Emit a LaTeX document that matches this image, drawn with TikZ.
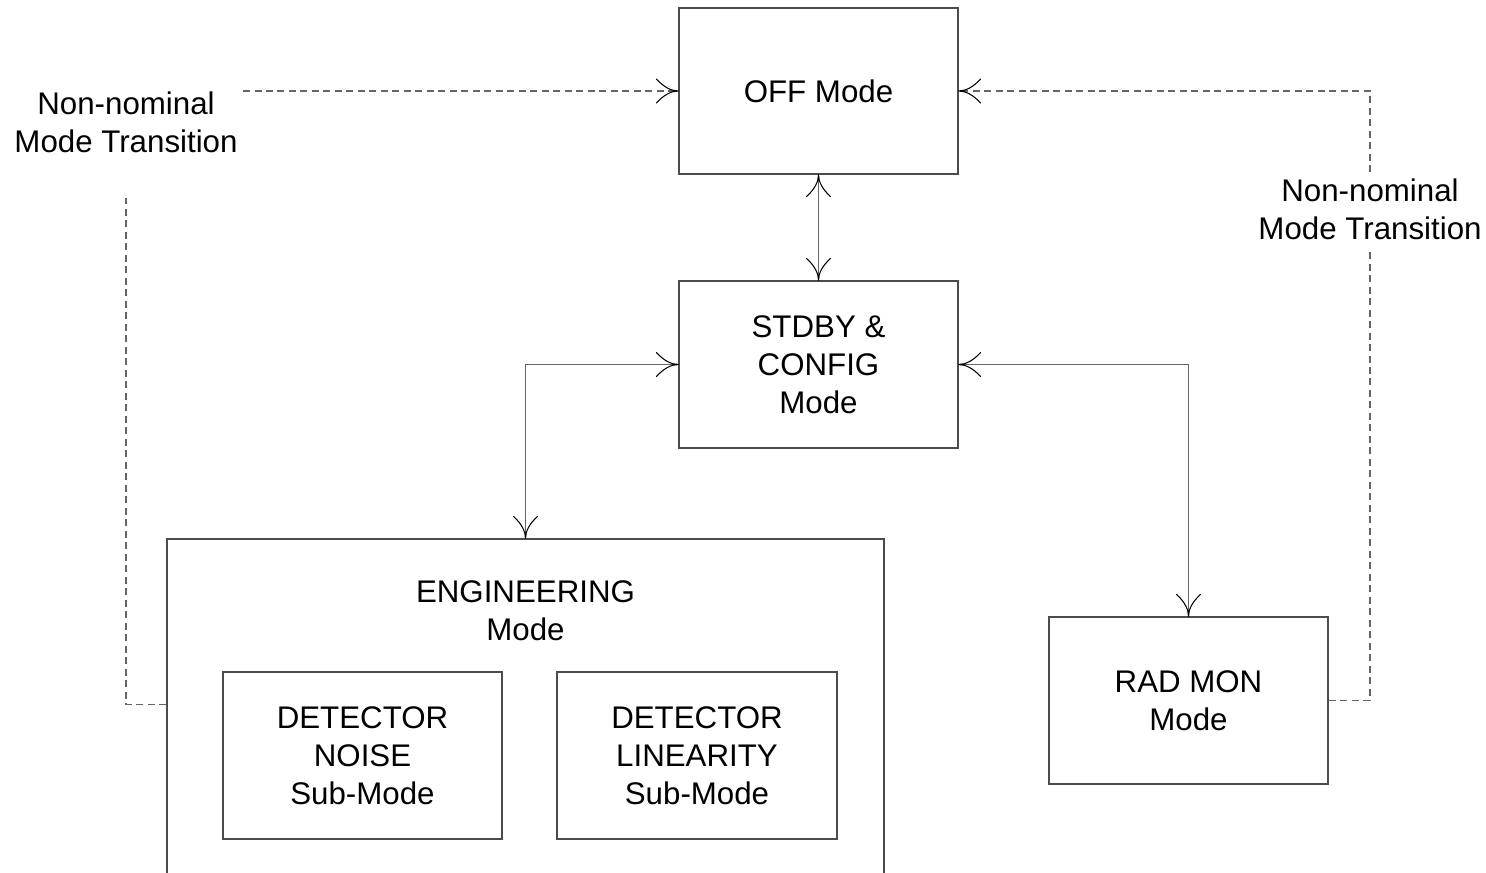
\documentclass[tikz,border=0pt]{standalone}
\usepackage{fontspec}
\setmainfont{Liberation Sans}

% open fork-shaped arrow tip with curved barbs
\pgfarrowsdeclare{fork}{fork}
{\pgfarrowsleftextend{-0.46cm}\pgfarrowsrightextend{0pt}}
{
  \pgfsetdash{}{0pt}
  \pgfsetroundcap
  \pgfsetlinewidth{0.6pt}
  \pgfsetstrokecolor{black}
  \pgfpathmoveto{\pgfpoint{-0.44cm}{0.24cm}}
  \pgfpathquadraticcurveto{\pgfpoint{-0.22cm}{0cm}}{\pgfpoint{0cm}{0cm}}
  \pgfpathmoveto{\pgfpoint{-0.44cm}{-0.24cm}}
  \pgfpathquadraticcurveto{\pgfpoint{-0.22cm}{0cm}}{\pgfpoint{0cm}{0cm}}
  \pgfusepathqstroke
}

\begin{document}
\begin{tikzpicture}[x=0.02cm,y=-0.02cm,
  every node/.style={font=\fontsize{17.8}{21.5}\selectfont, align=center, text=black},
  modebox/.style={draw=black!70, line width=0.7pt, inner sep=0pt},
  conn/.style={draw=black!60, line width=0.7pt, fork-fork},
  dashline/.style={draw=black!60, line width=0.7pt, dash pattern=on 0.14cm off 0.09cm},
  note/.style={inner sep=0pt}]
\useasboundingbox (0,0) rectangle (1486,872);

% mode boxes
\node[modebox, minimum width=5.58cm, minimum height=3.32cm] (off) at (818.5,91) {OFF Mode};
\node[modebox, minimum width=5.58cm, minimum height=3.34cm] (stdby) at (818.5,364.5) {STDBY \&\\CONFIG\\Mode};
\node[modebox, minimum width=14.34cm, minimum height=6.84cm] (eng) at (525.5,710) {};
\node[note] (englabel) at (525.5,610.5) {ENGINEERING\\Mode};
\node[modebox, minimum width=5.58cm, minimum height=3.34cm] (noise) at (362.5,755.5) {DETECTOR\\NOISE\\Sub-Mode};
\node[modebox, minimum width=5.6cm, minimum height=3.34cm] (lin) at (697,755.5) {DETECTOR\\LINEARITY\\Sub-Mode};
\node[modebox, minimum width=5.58cm, minimum height=3.34cm] (rad) at (1188.5,700.5) {RAD MON\\Mode};

% nominal transitions
\draw[conn] (off.south) -- (stdby.north);
\draw[conn] (stdby.west) -| (eng.north);
\draw[conn] (stdby.east) -| (rad.north);

% non-nominal transitions back to OFF
\node[note] (lnote) at (126,122) {Non-nominal\\Mode Transition};
\node[note] (rnote) at (1370,209) {Non-nominal\\Mode Transition};
\coordinate (lgap) at (126,198);
\coordinate (lstart) at (243,91);
\coordinate (rtop) at (1370,172);
\coordinate (rbot) at (1370,250);
\draw[dashline] ([yshift=-3.32cm]eng.north west) -| (lgap);
\draw[dashline, -fork] (lstart) -- (off.west);
\draw[dashline] (rad.east) -| (rbot);
\draw[dashline, -fork] (rtop) |- (off.east);
\end{tikzpicture}
\end{document}
